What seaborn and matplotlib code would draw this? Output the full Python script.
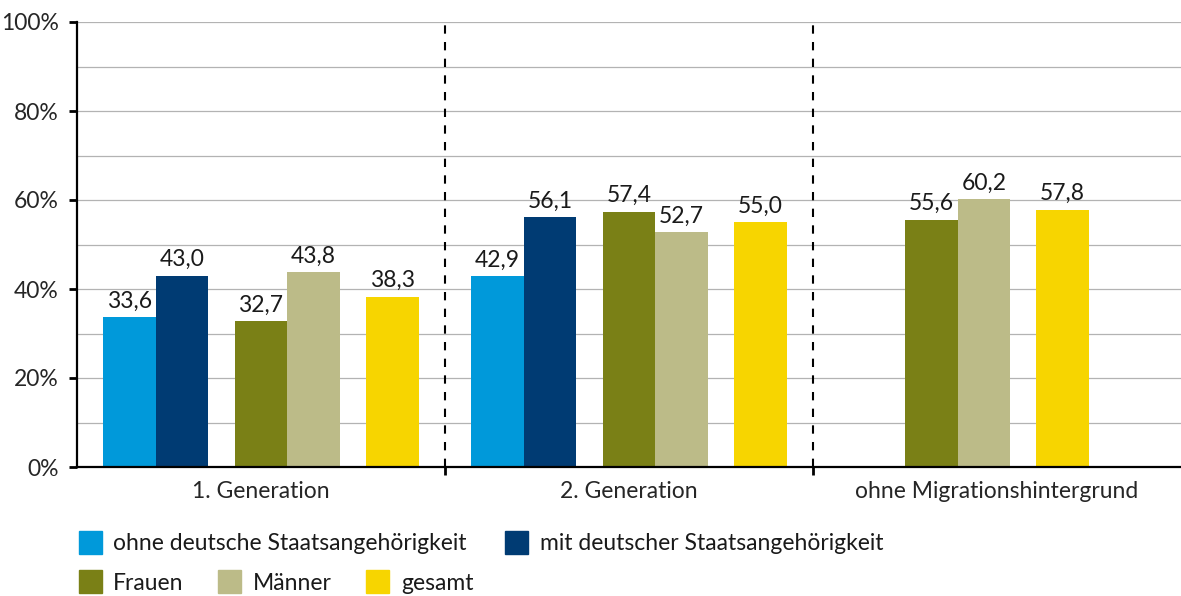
import matplotlib
matplotlib.use("Agg")
import matplotlib.pyplot as plt
import seaborn as sns
import pandas as pd
from matplotlib.patches import Rectangle

categories = ["1. Generation", "2. Generation", "ohne Migrationshintergrund"]
series = ["ohne deutsche Staatsangehörigkeit", "mit deutscher Staatsangehörigkeit",
          "Frauen", "Männer", "gesamt"]
ohne_deutsche = [33.6, 42.9, None]
mit_deutscher = [43.0, 56.1, None]
frauen = [32.7, 57.4, 55.6]
maenner = [43.8, 52.7, 60.2]
gesamt = [38.3, 55.0, 57.8]
y_ticks = [0, 20, 40, 60, 80, 100]
colors = ["#0099DA", "#003B73", "#7A8016", "#BCBB88", "#F7D500"]

sns.set_style("white")
plt.rcParams["font.family"] = ["Lato", "DejaVu Sans"]
FS = 16.5

W, H = 1181, 596
GROUP_W = 7.0
slot_offsets = [1.0, 2.0, 3.5, 4.5, 6.0]
values = [ohne_deutsche, mit_deutscher, frauen, maenner, gesamt]
rows = []
for g, cat in enumerate(categories):
    present = [i for i in range(5) if values[i][g] is not None]
    offs = [slot_offsets[i] for i in present]
    lo, hi = offs[0] - 0.5, offs[-1] + 0.5
    shift = (GROUP_W - (hi - lo)) / 2 - lo
    for i, o in zip(present, offs):
        rows.append({"pos": g * GROUP_W + o + shift, "value": values[i][g], "series": series[i]})
df = pd.DataFrame(rows)

fig = plt.figure(figsize=(W / 100, H / 100), dpi=100)
ax = fig.add_axes([77 / W, 1 - 467 / H, 1 - 77 / W, (467 - 22) / H])

sns.barplot(data=df, x="pos", y="value", hue="series", hue_order=series,
            palette=dict(zip(series, colors)), native_scale=True, dodge=False,
            width=1.0, saturation=1, errorbar=None, legend=False, ax=ax,
            linewidth=0, zorder=3)

ax.set_xlim(0, GROUP_W * 3)
ax.set_ylim(0, 100)
ax.set_xlabel("")
ax.set_ylabel("")

ax.set_xticks([GROUP_W, 2 * GROUP_W])
ax.set_xticklabels([])
ax.set_xticks([GROUP_W * (g + 0.5) for g in range(3)], minor=True)
ax.set_xticklabels(categories, minor=True)
ax.tick_params(axis="x", which="major", length=6, width=2, color="black", direction="out", bottom=True)
ax.tick_params(axis="x", which="minor", length=0, pad=10, labelsize=FS, bottom=True)

ax.set_yticks(y_ticks)
ax.set_yticklabels([f"{v}%" for v in y_ticks])
ax.set_yticks([10, 30, 50, 70, 90], minor=True)
ax.tick_params(axis="y", which="major", length=6, width=2, pad=7, labelsize=FS,
               color="black", direction="out", left=True)
ax.tick_params(axis="y", which="minor", length=0)
ax.grid(axis="y", which="both", color="#b3b3b3", lw=0.9)
ax.grid(axis="x", visible=False)
ax.set_axisbelow(True)

for s in ["top", "right"]:
    ax.spines[s].set_visible(False)
for s in ["left", "bottom"]:
    ax.spines[s].set_color("black")
    ax.spines[s].set_linewidth(1.6)
    ax.spines[s].set_zorder(5)

for xs in [GROUP_W, 2 * GROUP_W]:
    ax.axvline(xs, color="black", lw=1.5, ls=(0, (4, 4)), zorder=4)

for cont in ax.containers:
    labs = [f"{v:.1f}".replace(".", ",") for v in cont.datavalues]
    ax.bar_label(cont, labels=labs, padding=4, fontsize=FS, color="#1a1a1a")

# legend
SQ = 23
legend_rows = [
    (542, [(79, 113, 0), (505, 540, 1)]),
    (581, [(79, 113, 2), (218, 253, 3), (366, 401, 4)]),
]
for yc, items in legend_rows:
    for xs, xt, idx in items:
        fig.patches.append(Rectangle((xs / W, 1 - (yc + SQ / 2) / H), SQ / W, SQ / H,
                                     transform=fig.transFigure, color=colors[idx]))
        fig.text(xt / W, 1 - yc / H, series[idx], fontsize=FS, va="center_baseline",
                 ha="left", color="#1a1a1a")

fig.savefig("out.png", dpi=100)
